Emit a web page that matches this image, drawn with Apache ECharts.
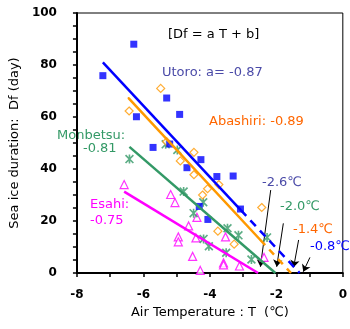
<!DOCTYPE html>
<html>
<head>
<meta charset="utf-8">
<script src="https://cdn.jsdelivr.net/npm/echarts@6/dist/echarts.min.js"></script>
<style>
  html, body { margin: 0; padding: 0; background: #fff; }
  #chart { width: 350px; height: 329px; }
</style>
</head>
<body>
<div id="chart"></div>
<script>
// observed points: [air temperature, sea ice duration]
const utoro = [
  [-7.22, 75.9], [-6.29, 88.0], [-6.21, 60.1], [-5.71, 48.3], [-5.30, 67.3],
  [-4.91, 61.0], [-5.21, 49.6], [-4.27, 43.6], [-4.69, 40.5], [-3.79, 37.1],
  [-3.30, 37.3], [-4.32, 25.6], [-4.06, 20.6], [-3.08, 24.6]
]
const abashiri = [
  [-6.43, 62.3], [-5.48, 71.0], [-5.30, 50.5], [-4.48, 46.4], [-4.89, 43.1],
  [-4.48, 37.8], [-3.73, 34.0], [-4.07, 32.4], [-4.22, 30.0], [-3.76, 16.1],
  [-3.27, 11.1], [-2.44, 25.2]
]
const monbetsu = [
  [-6.42, 43.8], [-5.33, 49.5], [-4.98, 47.3], [-4.79, 31.3], [-4.20, 27.2],
  [-4.49, 23.0], [-3.47, 17.2], [-3.14, 14.5], [-4.19, 13.1], [-4.03, 10.3],
  [-3.51, 7.8], [-2.28, 13.7], [-2.75, 5.2]
]
const esahi = [
  [-6.58, 34.0], [-5.18, 30.2], [-5.05, 27.1], [-4.39, 21.4], [-4.64, 18.1],
  [-4.95, 13.9], [-4.95, 12.0], [-4.42, 13.5], [-3.53, 13.9], [-4.52, 6.4],
  [-3.59, 3.9], [-3.59, 3.1], [-3.11, 2.7], [-4.29, 1.0], [-2.37, 6.0]
]

// regression lines (fitted part, extrapolated part)
const utoroFit = [[-7.22, 81.0], [-3.07, 24.2]]
const utoroExt = [[-3.07, 24.2], [-1.30, 0]]
const abashiriFit = [[-6.44, 67.2], [-2.48, 12.7]]
const abashiriExt = [[-2.48, 12.7], [-1.56, 0]]
const monbetsuFit = [[-6.42, 48.5], [-2.03, 0]]
const esahiFit = [[-6.58, 31.3], [-2.55, 0]]

// arrows pointing at the freezing thresholds
const arrows = [
  [[-2.17, 31.9], [-2.48, 2.4]],
  [[-1.79, 19.1], [-1.99, 2.4]],
  [[-1.33, 12.7], [-1.48, 2.2]],
  [[-0.99, 6.0], [-1.19, 0.5]]
]

const xTicks = [-8, -6, -4, -2, 0]
const yTicks = [0, 20, 40, 60, 80, 100]

const FONT = "DejaVu Sans"
const starPath = "path://M4.1,0h1.8v10h-1.8z M0,1.3L1.3,0L10,8.7L8.7,10z M10,1.3L1.3,10L0,8.7L8.7,0z"

const chart = echarts.init(document.getElementById("chart"))

function txt(text, x, y, color) {
  return {
    type: "text",
    x: x,
    y: y,
    style: { text: text, fill: color, font: "13px '" + FONT + "'", verticalAlign: "middle" }
  }
}

const option = {
  backgroundColor: "#fff",
  animation: false,
  grid: { left: 75, right: 3, top: 13, bottom: 56, show: true, borderColor: "#000", borderWidth: 1 },
  xAxis: {
    type: "value",
    min: -8,
    max: 0,
    interval: 1,
    name: "Air Temperature : T  (℃)",
    nameLocation: "middle",
    nameGap: 31,
    nameTextStyle: { fontFamily: FONT, fontSize: 13, color: "#000" },
    axisLine: { onZero: false, lineStyle: { color: "#000", width: 2 } },
    axisTick: { inside: false, length: 4, lineStyle: { color: "#000", width: 1.5 } },
    axisLabel: {
      margin: 16,
      fontFamily: FONT, fontSize: 12, fontWeight: "bold", color: "#000",
      formatter: v => xTicks.includes(v) ? String(v) : ""
    },
    splitLine: { show: false }
  },
  yAxis: {
    type: "value",
    min: 0,
    max: 100,
    interval: 5,
    name: "Sea ice duration:  Df (day)",
    nameLocation: "middle",
    nameGap: 37,
    nameTextStyle: { fontFamily: FONT, fontSize: 13, color: "#000" },
    axisLine: { onZero: false, lineStyle: { color: "#000", width: 2 } },
    axisTick: { inside: false, length: 4, lineStyle: { color: "#000", width: 1.5 } },
    axisLabel: {
      margin: 20,
      fontFamily: FONT, fontSize: 12, fontWeight: "bold", color: "#000",
      formatter: v => yTicks.includes(v) ? String(v) : ""
    },
    splitLine: { show: false }
  },
  series: [
    { type: "line", data: esahiFit, symbol: "none", lineStyle: { color: "#ff00ff", width: 2.5 } },
    { type: "line", data: monbetsuFit, symbol: "none", lineStyle: { color: "#339966", width: 2.5 } },
    { type: "line", data: abashiriFit, symbol: "none", lineStyle: { color: "#ff9900", width: 2.5, cap: "round" } },
    { type: "line", data: abashiriExt, symbol: "none", lineStyle: { color: "#ff9900", width: 2.5, type: [7, 6] } },
    { type: "line", data: utoroFit, symbol: "none", lineStyle: { color: "#0000ff", width: 2.5 } },
    { type: "line", data: utoroExt, symbol: "none", lineStyle: { color: "#0000ff", width: 2.5, type: [8, 6] } },
    {
      type: "scatter", data: esahi, symbol: "triangle", symbolSize: 8,
      itemStyle: { color: "#fff", borderColor: "#ff00ff", borderWidth: 1.2 }
    },
    {
      type: "scatter", data: monbetsu, symbol: starPath, symbolSize: 9,
      itemStyle: { color: "#339966" }
    },
    {
      type: "scatter", data: abashiri, symbol: "diamond", symbolSize: 8,
      itemStyle: { color: "#fff", borderColor: "#ff9900", borderWidth: 1.2 }
    },
    {
      type: "scatter", data: utoro, symbol: "rect", symbolSize: 7,
      itemStyle: { color: "#0000ff" }
    },
    {
      type: "lines",
      coordinateSystem: "cartesian2d",
      symbol: ["none", "arrow"],
      symbolSize: [0, 7],
      lineStyle: { color: "#000", width: 1, opacity: 1 },
      data: arrows.map(a => ({ coords: a }))
    }
  ],
  graphic: [
    txt("[Df = a T + b]", 168, 35, "#000"),
    txt("Utoro: a= -0.87", 162, 73, "#4b4ba8"),
    txt("Abashiri: -0.89", 209, 122, "#ff6600"),
    txt("Monbetsu:", 57, 136, "#339966"),
    txt("-0.81", 83, 149, "#339966"),
    txt("Esahi:", 90, 205, "#ff00ff"),
    txt("-0.75", 90, 221, "#ff00ff"),
    txt("-2.6℃", 262, 183, "#4b4ba8"),
    txt("-2.0℃", 280, 207, "#339966"),
    txt("-1.4℃", 293, 230, "#ff6600"),
    txt("-0.8℃", 310, 247, "#0000ff")
  ]
}

chart.setOption(option)
</script>
</body>
</html>
